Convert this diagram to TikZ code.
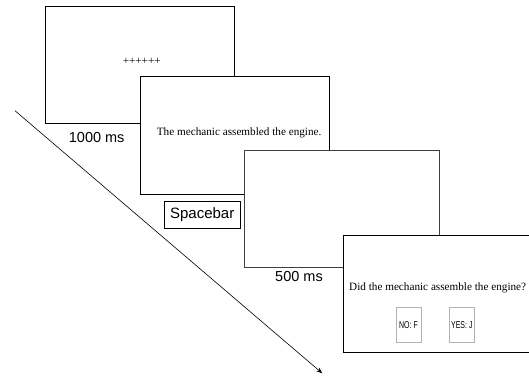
\documentclass[tikz,border=0pt]{standalone}
\usepackage{fontspec}
\setmainfont{Liberation Serif}
\newfontfamily\arialfont{Liberation Sans}
\usetikzlibrary{arrows.meta,positioning}

\tikzset{
  screen/.style={draw=black, fill=white, line width=1pt, inner sep=0pt},
  timelabel/.style={font=\arialfont\fontsize{14.5}{16}\selectfont, inner sep=0pt},
  stimtext/.style={font=\fontsize{11.2}{13}\selectfont, inner sep=0pt},
  keybox/.style={draw=black!30, line width=0.8pt, minimum width=25pt, minimum height=35pt,
    inner sep=0pt, font=\arialfont\fontsize{10}{11}\selectfont},
}

\begin{document}
\begin{tikzpicture}[x=1pt,y=-1pt]
\useasboundingbox (0,0) rectangle (529,376);
\clip (0,0) rectangle (529,376);
%
\coordinate (arrowstart) at (15,110.7);
\coordinate (arrowend) at (322.3,373.3);
\draw[line width=0.6pt, -{Stealth[length=6pt,width=4.5pt]}] (arrowstart) -- (arrowend);
%
\node[screen, minimum width=189pt, minimum height=117pt] (fixation) at (139.5,64.5) {};
\node[stimtext] (plus) at (141.7,61) {++++++};
\node[timelabel] (t1000) at (96.7,137.5) {1000 ms};
%
\node[screen, minimum width=189pt, minimum height=118pt] (sentence) at (234.5,135) {};
\node[stimtext, anchor=base west] (senttext) at (156.7,135.5) {The mechanic assembled the engine.};
\node[draw=black, line width=0.8pt, minimum width=75.7pt, minimum height=27.3pt, inner sep=0pt,
  font=\arialfont\fontsize{15}{17}\selectfont] (space) at (202.2,214.7) {Spacebar};
%
\node[screen, draw=black!75, minimum width=195pt, minimum height=117pt] (blank) at (341.5,208.5) {};
\node[timelabel] (t500) at (299,276) {500 ms};
%
\node[screen, minimum width=204pt, minimum height=117.5pt] (question) at (445,293.8) {};
\node[stimtext, anchor=base west] (questtext) at (349,290) {Did the mechanic assemble the engine?};
\node[keybox] (nokey) at (408.5,325) {\scalebox{0.7}[1]{NO: F}};
\node[keybox] (yeskey) at (461.8,325) {\scalebox{0.7}[1]{YES: J}};
\end{tikzpicture}
\end{document}
